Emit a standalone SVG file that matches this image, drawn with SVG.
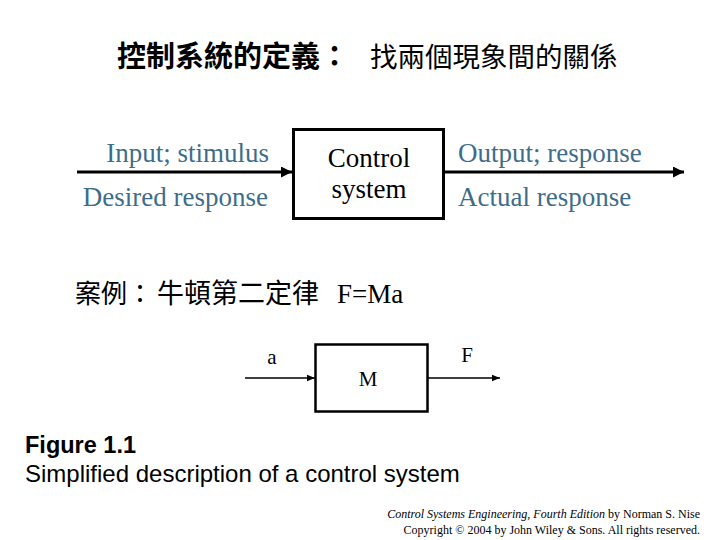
<svg xmlns="http://www.w3.org/2000/svg" width="720" height="540" viewBox="0 0 720 540">
<style>
.cjk{font-family:"Liberation Serif","Noto Sans CJK TC",serif;fill:#000}
.lbl{font-family:"Liberation Serif",serif;font-size:27px;fill:#3d6d8a}
.blk{font-family:"Liberation Serif",serif;fill:#000}
.sans{font-family:"Liberation Sans",Arial,sans-serif;fill:#000}
.ln{stroke:#000;fill:none}
</style>
<defs>
<marker id="ah" viewBox="0 0 10 10" refX="10" refY="5" markerWidth="20" markerHeight="11" markerUnits="userSpaceOnUse" orient="auto">
<path d="M0,0 L10,5 L0,10 z" fill="#000"/>
</marker>
<marker id="ah2" viewBox="0 0 10 10" refX="10" refY="5" markerWidth="14" markerHeight="8" markerUnits="userSpaceOnUse" orient="auto">
<path d="M0,1 L10,5 L0,9 z" fill="#000"/>
</marker>
</defs>
<rect width="720" height="540" fill="#fff"/>
<g id="title">
<text x="117" y="67" class="cjk" font-size="29" font-weight="bold">控制系統的定義：</text>
<text x="370" y="67" class="cjk" font-size="27.5">找兩個現象間的關係</text>
</g>
<g id="connectors">
<line x1="77" y1="172" x2="292" y2="172" class="ln" stroke-width="3" marker-end="url(#ah)"/>
<line x1="444" y1="172" x2="684" y2="172" class="ln" stroke-width="3" marker-end="url(#ah)"/>
<line x1="245" y1="378" x2="315" y2="378" class="ln" stroke-width="1.5" marker-end="url(#ah2)"/>
<line x1="428" y1="378" x2="500" y2="378" class="ln" stroke-width="1.5" marker-end="url(#ah2)"/>
</g>
<g id="labels">
<text x="269" y="162" class="lbl" text-anchor="end">Input; stimulus</text>
<text x="268" y="206" class="lbl" text-anchor="end">Desired response</text>
<text x="458" y="162" class="lbl">Output; response</text>
<text x="458" y="206" class="lbl">Actual response</text>
</g>
<g id="control-system">
<rect x="293.5" y="129.5" width="150" height="89" fill="#fff" stroke="#000" stroke-width="3"/>
<text x="369" y="167" class="blk" font-size="27" text-anchor="middle">Control</text>
<text x="369" y="198" class="blk" font-size="27" text-anchor="middle">system</text>
</g>
<g id="example">
<text y="303" class="cjk" font-size="26"><tspan x="75">案例：</tspan><tspan x="157" font-size="27">牛頓第二定律</tspan><tspan x="337" font-size="27">F=Ma</tspan></text>
</g>
<g id="mass">
<rect x="315.5" y="344.5" width="112" height="67" fill="#fff" stroke="#000" stroke-width="2.5"/>
<text x="368" y="386" class="blk" font-size="21" text-anchor="middle">M</text>
</g>
<text x="272" y="364" class="blk" font-size="21" text-anchor="middle">a</text>
<text x="467" y="362" class="blk" font-size="21" text-anchor="middle">F</text>
<g id="caption">
<text x="25" y="453" class="sans" font-size="23.5" font-weight="bold">Figure 1.1</text>
<text x="25" y="482" class="sans" font-size="24">Simplified description of a control system</text>
</g>
<g id="footer">
<text x="700" y="518" class="blk" font-size="12" text-anchor="end"><tspan font-style="italic">Control Systems Engineering, Fourth Edition</tspan> by Norman S. Nise</text>
<text x="700" y="534" class="blk" font-size="12" text-anchor="end">Copyright © 2004 by John Wiley &amp; Sons. All rights reserved.</text>
</g>
</svg>
